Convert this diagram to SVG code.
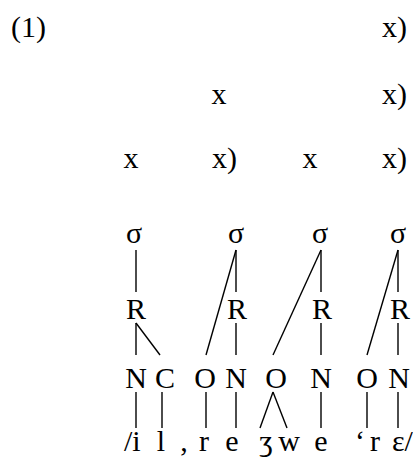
<svg xmlns="http://www.w3.org/2000/svg" width="413" height="466" viewBox="0 0 413 466">
<style>
text{font-family:"Liberation Serif","Times New Roman",serif;font-size:30px;fill:#000}
.m{text-anchor:middle}
.e{text-anchor:end}
#connectors line{stroke:#000;stroke-width:1.4;fill:none}
</style>
<rect width="413" height="466" fill="#fff"/>
<g id="label"><text x="11" y="37">(1)</text></g>
<g id="grid-row1"><text class="e" x="407" y="37">x)</text></g>
<g id="grid-row2"><text class="m" x="219" y="104">x</text><text class="e" x="407" y="104">x)</text></g>
<g id="grid-row3"><text class="m" x="131" y="168">x</text><text x="212" y="168">x)</text><text class="m" x="310" y="168">x</text><text class="e" x="407" y="168">x)</text></g>
<g id="syll1"><text class="m" x="134" y="243">σ</text></g>
<g id="syll2"><text class="m" x="236" y="243">σ</text></g>
<g id="syll3"><text class="m" x="320" y="243">σ</text></g>
<g id="syll4"><text class="m" x="398" y="243">σ</text></g>
<g id="rime1"><text class="m" x="136" y="319">R</text></g>
<g id="rime2"><text class="m" x="237" y="319">R</text></g>
<g id="rime3"><text class="m" x="322" y="319">R</text></g>
<g id="rime4"><text class="m" x="400" y="319">R</text></g>
<g id="n1"><text class="m" x="136" y="388">N</text></g>
<g id="c1"><text class="m" x="165" y="388">C</text></g>
<g id="o2"><text class="m" x="205" y="388">O</text></g>
<g id="n2"><text class="m" x="236" y="388">N</text></g>
<g id="o3"><text class="m" x="276" y="388">O</text></g>
<g id="n3"><text class="m" x="321" y="388">N</text></g>
<g id="o4"><text class="m" x="367" y="388">O</text></g>
<g id="n4"><text class="m" x="399" y="388">N</text></g>
<g id="segments"><text y="451"><tspan x="124">/i</tspan><tspan class="m" x="161">l</tspan><tspan class="m" x="184">,</tspan><tspan class="m" x="204">r</tspan><tspan class="m" x="232">e</tspan><tspan class="m" x="266">ʒ</tspan><tspan class="m" x="289">w</tspan><tspan class="m" x="321">e</tspan><tspan class="m" x="360">ʻ</tspan><tspan class="m" x="375">r</tspan><tspan x="392">ɛ/</tspan></text></g>
<g id="connectors">
<line x1="136" y1="250" x2="136" y2="292"/>
<line x1="236" y1="250" x2="236" y2="292"/>
<line x1="321" y1="250" x2="321" y2="292"/>
<line x1="398" y1="250" x2="398" y2="292"/>
<line x1="136" y1="323" x2="136" y2="355"/>
<line x1="236" y1="323" x2="236" y2="355"/>
<line x1="321" y1="323" x2="321" y2="355"/>
<line x1="398" y1="323" x2="398" y2="355"/>
<line x1="136" y1="323" x2="160" y2="355"/>
<line x1="236" y1="250" x2="206" y2="355"/>
<line x1="321" y1="250" x2="273" y2="355"/>
<line x1="398" y1="250" x2="367" y2="355"/>
<line x1="136" y1="392" x2="136" y2="428"/>
<line x1="162" y1="392" x2="162" y2="428"/>
<line x1="206" y1="392" x2="206" y2="428"/>
<line x1="236" y1="392" x2="236" y2="428"/>
<line x1="321" y1="392" x2="321" y2="428"/>
<line x1="367" y1="392" x2="367" y2="428"/>
<line x1="398" y1="392" x2="398" y2="428"/>
<line x1="273" y1="392" x2="260" y2="428"/>
<line x1="273" y1="392" x2="287" y2="428"/>
</g>
</svg>
